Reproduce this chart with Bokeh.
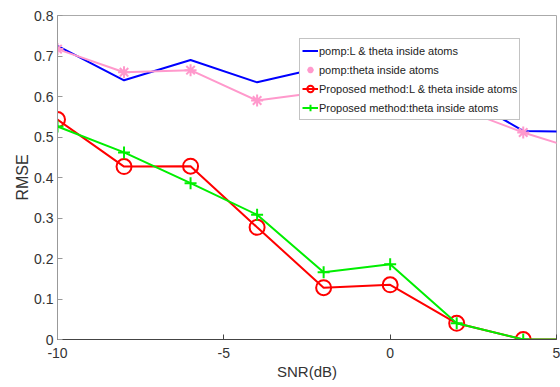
from bokeh.plotting import figure
from bokeh.models import Range1d, FixedTicker, Legend, LegendItem, CustomJSTickFormatter
from bokeh.embed import file_html
from bokeh.resources import INLINE

snr = [-10, -8, -6, -4, -2, 0, 2, 4, 6]
pomp_l_theta = [0.725, 0.640, 0.690, 0.635, 0.673, 0.660, 0.610, 0.515, 0.512]
pomp_theta = [0.717, 0.660, 0.665, 0.590, 0.612, 0.600, 0.573, 0.511, 0.460]
prop_l_theta = [0.543, 0.427, 0.428, 0.277, 0.128, 0.135, 0.040, 0.0, 0.0]
prop_theta = [0.526, 0.462, 0.386, 0.308, 0.166, 0.186, 0.040, 0.0, 0.0]
x_ticks = [-10, -5, 0, 5]
y_ticks = [0, 0.1, 0.2, 0.3, 0.4, 0.5, 0.6, 0.7, 0.8]
labels = ["pomp:L & theta inside atoms", "pomp:theta inside atoms",
          "Proposed method:L & theta inside atoms", "Proposed method:theta inside atoms"]

FONT = "Liberation Sans"

p = figure(width=560, height=387, output_backend="svg", toolbar_location=None,
           x_range=Range1d(-10, 5), y_range=Range1d(0, 0.8),
           min_border_left=57, min_border_right=4, min_border_top=15, min_border_bottom=48)
p.grid.visible = False
p.outline_line_color = "#aaaaaa"
p.outline_line_width = 1

blue = p.line(snr, pomp_l_theta, line_color="#0000ff", line_width=2)
pink_l = p.line(snr, pomp_theta, line_color="#ff99cc", line_width=2)
pink_m = p.scatter(snr, pomp_theta, marker="asterisk", size=12, line_color="#ff99cc", line_width=2)
red_l = p.line(snr, prop_l_theta, line_color="#ff0000", line_width=2)
red_m = p.scatter(snr, prop_l_theta, marker="circle", size=15, line_color="#ff0000",
                  fill_color=None, line_width=2)
green_l = p.line(snr, prop_theta, line_color="#00ee00", line_width=2)
green_m = p.scatter(snr, prop_theta, marker="cross", size=12, line_color="#00ee00", line_width=2)

fmt = CustomJSTickFormatter(code="return tick.toString();")
for ax in p.xaxis + p.yaxis:
    ax.major_tick_in = 5
    ax.major_tick_out = 0
    ax.minor_tick_line_color = None
    ax.formatter = fmt
    ax.major_label_text_font = FONT
    ax.major_label_text_font_size = "14px"
    ax.major_label_text_color = "#333333"
    ax.axis_label_text_font = FONT
    ax.axis_label_text_font_style = "normal"
    ax.axis_label_text_color = "#333333"

p.xaxis.ticker = FixedTicker(ticks=x_ticks)
p.yaxis.ticker = FixedTicker(ticks=y_ticks)
p.xaxis.axis_label = "SNR(dB)"
p.yaxis.axis_label = "RMSE"
p.xaxis.axis_label_text_font_size = "15px"
p.yaxis.axis_label_text_font_size = "16px"
p.xaxis.axis_line_color = "#444444"
p.yaxis.axis_line_color = "#999999"
p.xaxis.major_tick_line_color = "#444444"
p.yaxis.major_tick_line_color = "#999999"
p.xaxis.major_label_standoff = 8
p.yaxis.major_label_standoff = 4
p.xaxis.axis_label_standoff = 2
p.yaxis.axis_label_standoff = 0

legend = Legend(items=[
    LegendItem(label=labels[0], renderers=[blue]),
    LegendItem(label=labels[1], renderers=[pink_m]),
    LegendItem(label=labels[2], renderers=[red_l, red_m]),
    LegendItem(label=labels[3], renderers=[green_l, green_m]),
], location=(242, 219))
legend.label_text_font = FONT
legend.label_text_font_size = "11px"
legend.label_text_color = "#222222"
legend.padding = 2
legend.spacing = 0
legend.margin = 0
legend.glyph_width = 16
legend.glyph_height = 19
legend.label_height = 19
legend.label_standoff = 1
legend.border_line_color = "#888888"
legend.background_fill_alpha = 1
p.add_layout(legend)

open("out.html", "w").write(file_html(p, INLINE))
